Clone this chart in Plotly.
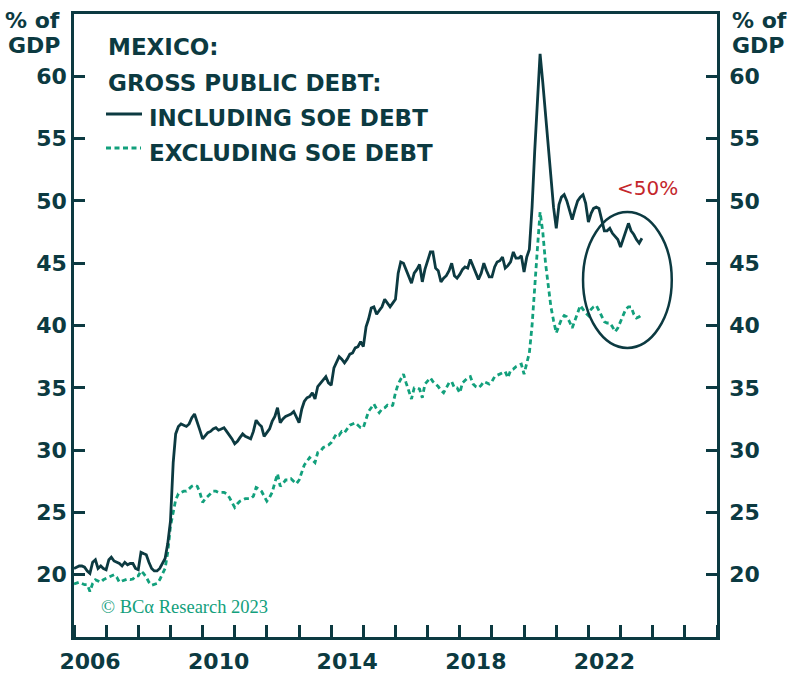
import pandas as pd
import plotly.graph_objects as go

# Mexico gross public debt, % of GDP, monthly from Jan 2006
incl_soe = [
    20.5, 20.6, 20.7, 20.7, 20.6, 20.3, 20.1, 21.0, 21.2, 20.5, 20.7, 20.5,  # 2006
    20.4, 21.2, 21.4, 21.1, 21.0, 20.9, 20.7, 21.0, 20.8, 20.9, 20.9, 20.5,  # 2007
    20.4, 21.8, 21.7, 21.6, 21.0, 20.5, 20.3, 20.3, 20.5, 20.9, 21.3, 22.5,  # 2008
    24.3, 29.0, 31.3, 31.9, 32.1, 32.0, 31.9, 32.1, 32.6, 32.9, 32.3, 31.6,  # 2009
    30.9, 31.2, 31.4, 31.5, 31.7, 31.8, 31.6, 31.7, 31.8, 31.5, 31.2, 30.9,  # 2010
    30.5, 30.7, 31.0, 31.3, 31.1, 31.0, 30.9, 31.5, 32.4, 32.1, 31.9, 31.1,  # 2011
    31.4, 31.7, 32.3, 32.7, 33.4, 32.2, 32.5, 32.7, 32.8, 32.9, 33.1, 32.6,  # 2012
    32.2, 33.3, 33.9, 34.2, 34.3, 34.6, 34.1, 35.1, 35.4, 35.7, 35.9, 35.4,  # 2013
    35.2, 36.6, 37.1, 37.5, 37.3, 37.0, 37.3, 37.7, 37.8, 38.2, 38.3, 38.7,  # 2014
    38.3, 39.9, 40.5, 41.4, 41.5, 40.9, 41.2, 41.5, 42.1, 41.8, 41.5, 41.8,  # 2015
    42.1, 44.2, 45.1, 45.0, 44.5, 43.9, 43.4, 44.2, 44.5, 44.9, 43.5, 44.5,  # 2016
    45.3, 45.9, 45.9, 44.6, 44.4, 43.5, 43.8, 44.0, 44.4, 45.0, 44.0, 43.8,  # 2017
    44.1, 44.5, 44.7, 44.6, 45.3, 44.8, 44.3, 43.7, 44.2, 45.0, 44.4, 43.9,  # 2018
    43.9, 44.7, 45.1, 45.2, 45.5, 44.6, 44.8, 45.1, 45.9, 45.4, 45.4, 45.6,  # 2019
    44.3, 45.5, 46.1, 49.5, 54.0, 57.8, 61.8, 59.5, 57.0, 54.0, 51.5, 49.5,  # 2020
    47.8, 49.7, 50.3, 50.5, 50.0, 49.3, 48.5, 49.3, 50.0, 50.3, 50.5, 49.8,  # 2021
    48.3, 49.0, 49.4, 49.5, 49.4, 48.5, 47.6, 47.6, 47.8, 47.4, 47.1, 46.9,  # 2022
    46.3, 46.9, 47.6, 48.2, 47.6, 47.3, 46.9, 46.6, 47.0,                    # 2023
]

excl_soe = [
    19.25, 19.35, 19.4, 19.3, 19.2, 19.2, 18.65, 19.3, 19.6, 19.5, 19.4, 19.6,  # 2006
    19.7, 19.8, 19.9, 20.0, 19.8, 19.4, 19.5, 19.6, 19.65, 19.6, 19.65, 19.9,   # 2007
    19.9, 20.3, 20.1, 19.8, 19.4, 19.15, 19.2, 19.3, 19.6, 20.0, 20.5, 21.8,    # 2008
    23.9, 25.0, 26.0, 26.5, 26.6, 26.7, 26.7, 26.9, 27.1, 27.2, 27.1, 26.6,     # 2009
    25.8, 26.1, 26.3, 26.5, 26.7, 26.7, 26.6, 26.6, 26.6, 26.5, 26.2, 25.8,     # 2010
    25.4, 25.7, 25.9, 26.0, 26.1, 26.1, 26.1, 26.3, 27.0, 26.9, 26.7, 26.3,     # 2011
    25.9, 26.2, 26.6, 27.4, 28.1, 27.1, 27.3, 27.6, 27.6, 27.7, 27.5, 27.3,     # 2012
    27.6, 28.2, 28.8, 29.1, 29.4, 29.2, 29.0, 29.8, 29.9, 30.2, 30.3, 30.4,     # 2013
    30.6, 31.0, 31.3, 31.2, 31.5, 31.4, 31.7, 32.0, 32.1, 32.2, 32.0, 31.8,     # 2014
    31.8, 32.5, 33.1, 33.4, 33.7, 33.3, 33.0, 33.3, 33.4, 33.6, 33.5, 33.6,     # 2015
    34.6, 35.3, 35.7, 36.1, 35.4, 34.7, 34.1, 35.0, 35.0, 34.9, 34.2, 35.3,     # 2016
    35.6, 35.8, 35.5, 35.3, 35.1, 34.8, 34.6, 35.0, 35.4, 35.5, 35.0, 35.0,     # 2017
    34.6, 35.4, 35.6, 35.8, 35.9, 35.3, 35.1, 35.0, 35.2, 35.5, 35.4, 35.3,     # 2018
    35.5, 35.9, 36.0, 36.1, 36.2, 36.3, 35.8, 36.4, 36.5, 36.7, 36.8, 36.9,     # 2019
    36.1, 37.0, 37.8, 40.0, 43.5, 46.2, 49.1, 47.5, 45.0, 43.0, 41.5, 40.4,     # 2020
    39.4, 40.0, 40.5, 40.8, 40.7, 40.3, 39.8, 40.4, 41.0, 41.6, 41.3, 41.0,     # 2021
    40.8, 41.3, 41.5, 41.6, 41.2, 40.8, 40.3, 40.2, 40.2, 39.9, 39.5, 39.8,     # 2022
    40.3, 40.8, 41.3, 41.5, 41.5, 40.9, 40.6, 40.7, 40.9,                       # 2023
]

year_labels = ["2006", "2010", "2014", "2018", "2022"]
y_ticks = [15, 20, 25, 30, 35, 40, 45, 50, 55, 60, 65]
y_ticktext = ["", "20", "25", "30", "35", "40", "45", "50", "55", "60", ""]

months = pd.date_range("2006-01-01", periods=len(incl_soe), freq="MS")

DARK = "#0c3a41"
GREEN = "#12a07c"
RED = "#c4262b"
FONT = "DejaVu Sans"

W, H = 788, 678
L, R, T, B = 74, 71, 14, 41


def px_x(px):
    return (px - L) / (W - L - R)


def px_y(py):
    return (H - B - py) / (H - T - B)


fig = go.Figure()
fig.add_trace(go.Scatter(
    x=months, y=excl_soe, mode="lines", name="EXCLUDING SOE DEBT",
    line=dict(color=GREEN, width=2.8, dash="5px,3.5px"),
))
# the solid series is drawn against the right-hand scale (same range as the left)
fig.add_trace(go.Scatter(
    x=months, y=incl_soe, mode="lines", name="INCLUDING SOE DEBT",
    line=dict(color=DARK, width=2.8), yaxis="y2",
))

tick_font = dict(family=FONT, size=22, color=DARK, weight=700)

fig.update_layout(
    width=W, height=H,
    margin=dict(l=L, r=R, t=T, b=B, pad=0, autoexpand=False),
    paper_bgcolor="white", plot_bgcolor="white",
    showlegend=False,
    xaxis=dict(
        type="date", automargin=False,
        range=["2006-01-01", "2026-01-01"],
        showgrid=False, zeroline=False,
        showline=True, linecolor=DARK, linewidth=2.5, mirror=True,
        tickmode="array",
        tickvals=[f"{y}-07-02" for y in year_labels],
        ticktext=year_labels,
        ticks="", ticklabelstandoff=3,
        tickfont=tick_font,
        minor=dict(
            tickmode="array",
            tickvals=[f"{y}-01-01" for y in range(2006, 2027)],
            ticks="inside", ticklen=12, tickwidth=2.5, tickcolor=DARK,
            showgrid=False,
        ),
    ),
    yaxis=dict(
        range=[15, 65], automargin=False,
        showgrid=False, zeroline=False,
        showline=True, linecolor=DARK, linewidth=2.5,
        tickmode="array", tickvals=y_ticks, ticktext=y_ticktext,
        ticks="inside", ticklen=11, tickwidth=2.5, tickcolor=DARK,
        ticklabelstandoff=0,
        tickfont=tick_font,
    ),
    yaxis2=dict(
        range=[15, 65], overlaying="y", side="right", anchor="x", automargin=False,
        showgrid=False, zeroline=False,
        showline=True, linecolor=DARK, linewidth=2.5,
        tickmode="array", tickvals=y_ticks, ticktext=y_ticktext,
        ticks="inside", ticklen=11, tickwidth=2.5, tickcolor=DARK,
        ticklabelstandoff=5,
        tickfont=tick_font,
    ),
)

ann_font = dict(family=FONT, size=23, color=DARK, weight=700)
unit_font = dict(family=FONT, size=22, color=DARK, weight=700)
annotations = [
    # axis units
    dict(x=px_x(62), y=px_y(20), text="% of", xanchor="right", font=unit_font),
    dict(x=px_x(62), y=px_y(46), text="GDP", xanchor="right", font=unit_font),
    dict(x=px_x(730), y=px_y(20), text="% of", xanchor="left", font=unit_font),
    dict(x=px_x(730), y=px_y(46), text="GDP", xanchor="left", font=unit_font),
    # title and key
    dict(x=px_x(106), y=px_y(47), text="MEXICO:", xanchor="left", font=ann_font),
    dict(x=px_x(106), y=px_y(83), text="GROSS PUBLIC DEBT:", xanchor="left", font=ann_font),
    dict(x=px_x(147), y=px_y(118), text="INCLUDING SOE DEBT", xanchor="left", font=ann_font),
    dict(x=px_x(147), y=px_y(153), text="EXCLUDING SOE DEBT", xanchor="left", font=ann_font),
    # source
    dict(x=px_x(99), y=px_y(607), text="© BCα Research 2023", xanchor="left",
         font=dict(family="Liberation Serif", size=18.5, color=GREEN)),
]
for a in annotations:
    a.update(xref="paper", yref="paper", yanchor="middle", showarrow=False)
    fig.add_annotation(**a)

# highlight of the recent readings
fig.add_annotation(
    x="2023-11-07", y=51.0, xref="x", yref="y", text="<50%", showarrow=False,
    font=dict(family=FONT, size=20, color=RED), xanchor="center", yanchor="middle",
)
fig.add_shape(
    type="circle", xref="x", yref="y",
    x0="2021-11-01", x1="2024-08-05", y0=38.2, y1=49.1,
    line=dict(color=DARK, width=2.5),
)

# key line samples
fig.add_shape(type="line", xref="paper", yref="paper",
              x0=px_x(106), x1=px_x(142), y0=px_y(114), y1=px_y(114),
              line=dict(color=DARK, width=2.8))
fig.add_shape(type="line", xref="paper", yref="paper",
              x0=px_x(106), x1=px_x(141), y0=px_y(148), y1=px_y(148),
              line=dict(color=GREEN, width=2.8, dash="5px,3.5px"))

fig.write_html("out.html")
